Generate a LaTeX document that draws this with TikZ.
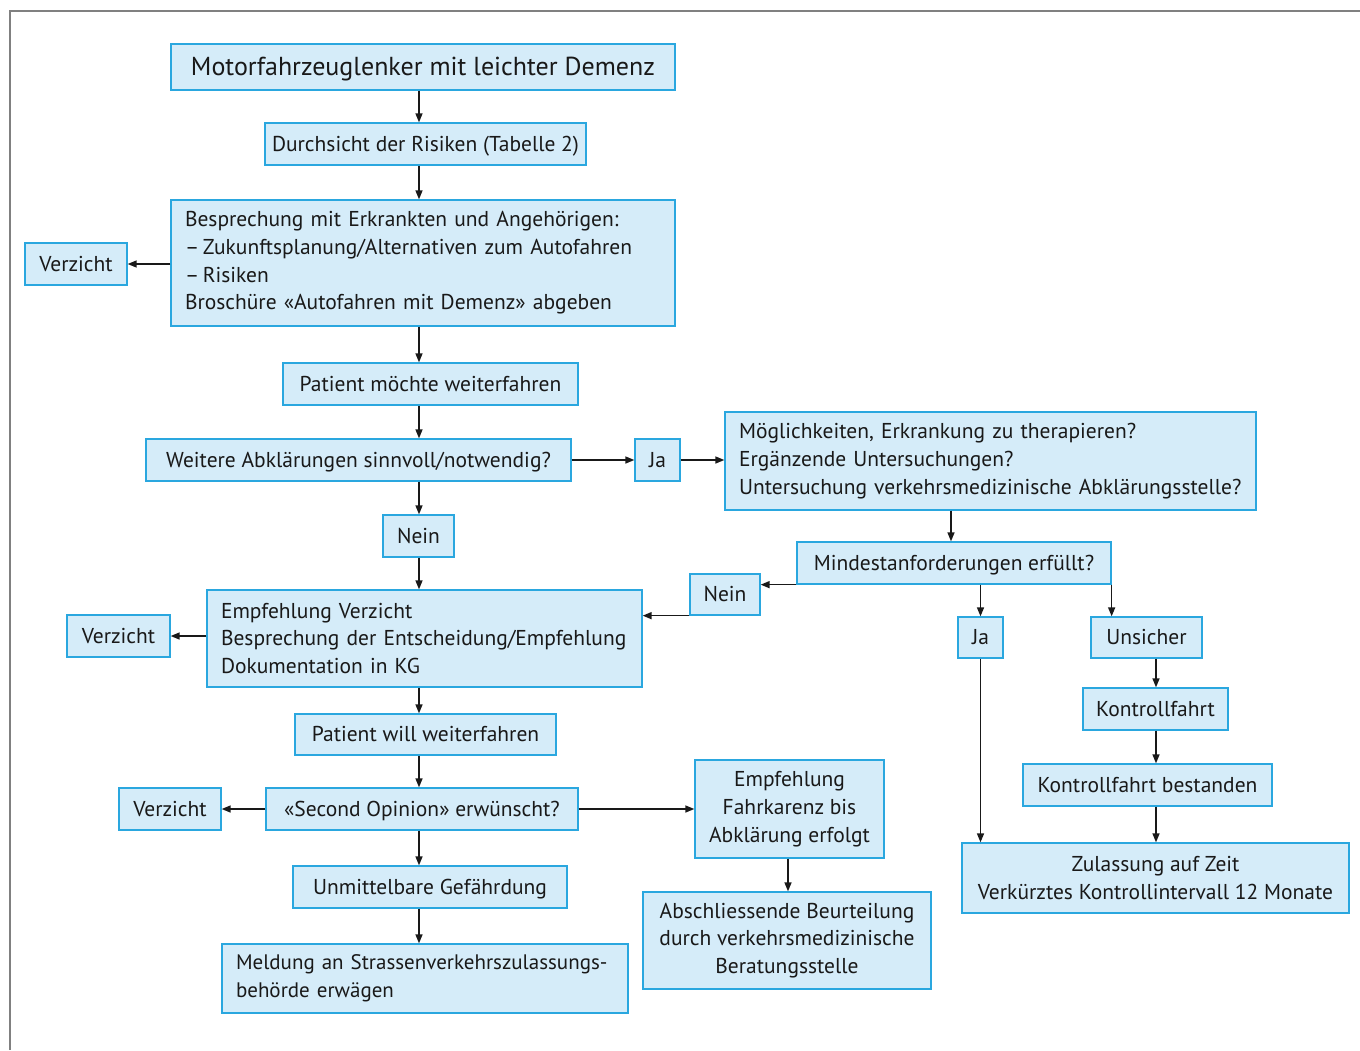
\documentclass[tikz,border=0pt]{standalone}
\usepackage{fontspec}
\setmainfont{PT Sans}
\usetikzlibrary{arrows.meta,calc}
\definecolor{boxfill}{HTML}{D5ECF9}
\definecolor{boxline}{HTML}{2AA7DF}
\definecolor{frame}{HTML}{808080}
\begin{document}
\begin{tikzpicture}[x=1pt,y=-1pt,
  box/.style={draw=boxline,fill=boxfill,line width=1.3pt,inner sep=0pt,
    font=\fontsize{21.5}{27.7}\selectfont,align=center,text=black!90},
  sbox/.style={box,text depth=1pt},
  lbox/.style={box,align=left,inner xsep=14pt},
  arr/.style={draw=black!90,line width=1.5pt,-{Triangle[length=9pt,width=7pt]}}]
\useasboundingbox (0,0) rectangle (1360,1050);
\draw[frame,line width=1.8pt] (10,1050) -- (10,11) -- (1360,11);
\coordinate (c419) at (419,0);
\coordinate (c951) at (951,0);
\coordinate (c788) at (788,0);
\coordinate (c1156) at (1156,0);
% nodes
\node[sbox,minimum width=504pt,minimum height=46pt,font=\fontsize{26}{28}\selectfont] (title) at (423,67) {Motorfahrzeuglenker mit leichter Demenz};
\node[sbox,minimum width=321pt,minimum height=42pt] (durch) at (425.5,144) {Durchsicht der Risiken (Tabelle 2)};
\node[lbox,text width=476pt,minimum height=126pt] (bespr) at (423,263) {Besprechung mit Erkrankten und Angehörigen:\\–\,Zukunftsplanung/Alternativen zum Autofahren\\–\,Risiken\\Broschüre «Autofahren mit Demenz» abgeben};
\node[sbox,minimum width=102pt,minimum height=42pt] (verz1) at (76,264) {Verzicht};
\node[sbox,minimum width=295pt,minimum height=42pt] (pmoechte) at (430.5,384) {Patient möchte weiterfahren};
\node[sbox,minimum width=425pt,minimum height=42pt] (weitere) at (358.5,460) {Weitere Abklärungen sinnvoll/notwendig?};
\node[sbox,minimum width=45pt,minimum height=42pt] (ja1) at (657.5,460) {Ja};
\node[lbox,text width=503pt,minimum height=98pt] (moegl) at (990.5,461) {Möglichkeiten, Erkrankung zu therapieren?\\Ergänzende Untersuchungen?\\Untersuchung verkehrsmedizinische Abklärungsstelle?};
\node[sbox,minimum width=71pt,minimum height=42pt] (nein1) at (418.5,536) {Nein};
\node[sbox,minimum width=314pt,minimum height=42pt] (mindest) at (954,563) {Mindestanforderungen erfüllt?};
\node[sbox,minimum width=70pt,minimum height=41pt] (nein2) at (725,594.5) {Nein};
\node[lbox,text width=407pt,minimum height=97pt] (empf) at (424.5,638.5) {Empfehlung Verzicht\\Besprechung der Entscheidung/Empfehlung\\Dokumentation in KG};
\node[sbox,minimum width=103pt,minimum height=42pt] (verz2) at (118.5,636) {Verzicht};
\node[sbox,minimum width=45pt,minimum height=41pt] (ja2) at (980.5,637.5) {Ja};
\node[sbox,minimum width=111pt,minimum height=41pt] (unsicher) at (1146.5,637.5) {Unsicher};
\node[sbox,minimum width=145pt,minimum height=42pt] (kontr) at (1155.5,709) {Kontrollfahrt};
\node[sbox,minimum width=261pt,minimum height=41pt] (pwill) at (425.5,734.5) {Patient will weiterfahren};
\node[sbox,minimum width=249pt,minimum height=42pt] (kbest) at (1147.5,785) {Kontrollfahrt bestanden};
\node[box,minimum width=189pt,minimum height=98pt] (fahrk) at (789.5,809) {Empfehlung\\Fahrkarenz bis\\Abklärung erfolgt};
\node[sbox,minimum width=102pt,minimum height=42pt] (verz3) at (170,809) {Verzicht};
\node[sbox,minimum width=312pt,minimum height=42pt] (second) at (422,809) {«Second Opinion» erwünscht?};
\node[box,minimum width=387pt,minimum height=70pt] (zul) at (1155.5,878) {Zulassung auf Zeit\\Verkürztes Kontrollintervall 12 Monate};
\node[sbox,minimum width=274pt,minimum height=42pt] (unmit) at (430,887) {Unmittelbare Gefährdung};
\node[box,minimum width=288pt,minimum height=97pt] (absch) at (787,940.5) {Abschliessende Beurteilung\\durch verkehrsmedizinische\\Beratungsstelle};
\node[lbox,text width=378pt,minimum height=69pt,font=\fontsize{21}{27.7}\selectfont] (meld) at (425,978.5) {Meldung an Strassenverkehrszulassungs-\\behörde erwägen};
% vertical connectors on main column
\draw[arr] (title.south -| c419) -- (durch.north -| c419);
\draw[arr] (durch.south -| c419) -- (bespr.north -| c419);
\draw[arr] (bespr.south -| c419) -- (pmoechte.north -| c419);
\draw[arr] (pmoechte.south -| c419) -- (weitere.north -| c419);
\draw[arr] (weitere.south -| c419) -- (nein1.north -| c419);
\draw[arr] (nein1.south -| c419) -- (empf.north -| c419);
\draw[arr] (empf.south -| c419) -- (pwill.north -| c419);
\draw[arr] (pwill.south -| c419) -- (second.north -| c419);
\draw[arr] (second.south -| c419) -- (unmit.north -| c419);
\draw[arr] (unmit.south -| c419) -- (meld.north -| c419);
% side connectors
\draw[arr] (bespr.west |- verz1.east) -- (verz1.east);
\draw[arr] (weitere.east |- ja1.west) -- (ja1.west);
\draw[arr] (ja1.east) -- (ja1.east -| moegl.west);
\draw[arr] (moegl.south -| c951) -- (mindest.north -| c951);
\draw[arr] (mindest.south west) -- (mindest.south west -| nein2.east);
\draw[arr] (nein2.south west) -- (nein2.south west -| empf.east);
\draw[arr] (empf.west |- verz2.east) -- (verz2.east);
\draw[arr] (mindest.south -| ja2.north) -- (ja2.north);
\draw[arr] (mindest.south east) -- (mindest.south east |- unsicher.north);
\draw[arr] (ja2.south) -- (ja2.south |- zul.north);
\draw[arr] (unsicher.south -| c1156) -- (kontr.north -| c1156);
\draw[arr] (kontr.south -| c1156) -- (kbest.north -| c1156);
\draw[arr] (kbest.south -| c1156) -- (zul.north -| c1156);
\draw[arr] (second.west) -- (verz3.east);
\draw[arr] (second.east) -- (fahrk.west);
\draw[arr] (fahrk.south -| c788) -- (absch.north -| c788);
\end{tikzpicture}
\end{document}
